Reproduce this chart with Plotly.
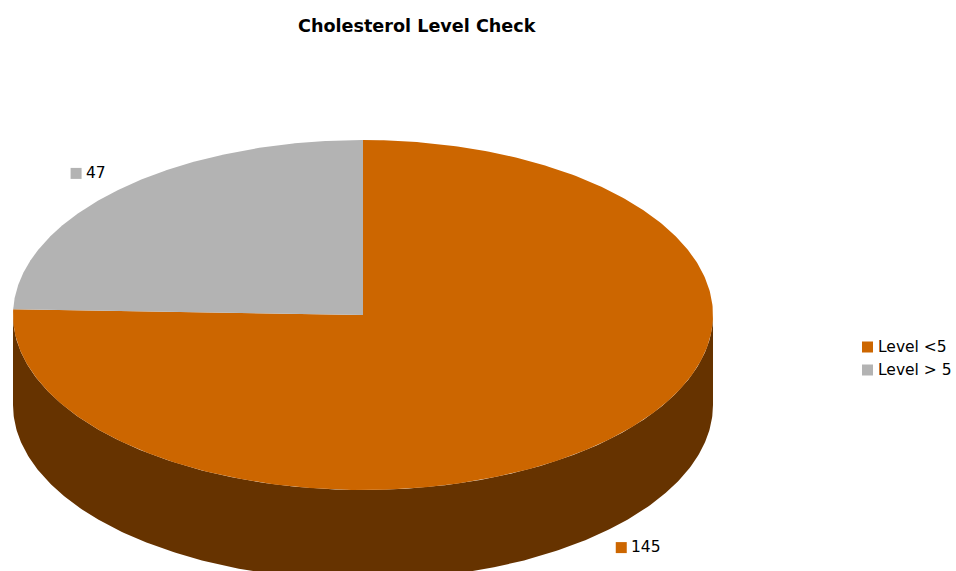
import numpy as np
import plotly.graph_objects as go

# Chart data
title_text = "Cholesterol Level Check"
categories = ["Level <5", "Level > 5"]
counts = [145, 47]
slice_colors = ["#CC6600", "#B3B3B3"]

# Geometry of the tilted pie (pixel-like data units, y grows downward)
W, H = 956, 571
cx, cy = 363, 315
rx, ry = 350, 175
depth = 90
start_deg = 90.0          # first slice starts at 12 o'clock
direction = -1            # clockwise
label_font_size = 15.5
sq = 11                   # marker square side


def darken(hex_color, f=0.5):
    h = hex_color.lstrip("#")
    r, g, b = (int(h[i:i + 2], 16) for i in (0, 2, 4))
    return "#{:02X}{:02X}{:02X}".format(int(r * f), int(g * f), int(b * f))


def ellipse_pt(t_deg, dz=0.0):
    t = np.radians(t_deg)
    return cx + rx * np.cos(t), cy - ry * np.sin(t) + dz


total = float(sum(counts))
spans = []
a = start_deg
for v in counts:
    sweep = 360.0 * v / total
    a0, a1 = a, a + direction * sweep
    spans.append((min(a0, a1), max(a0, a1)))
    a = a1

fig = go.Figure()

# Side walls: only the front half (180..360 degrees) is visible
for (lo, hi), col in zip(spans, slice_colors):
    for k in range(-1, 2):
        s_lo = max(lo, 180 + 360 * k)
        s_hi = min(hi, 360 + 360 * k)
        if s_hi <= s_lo:
            continue
        ts = np.linspace(s_lo, s_hi, 300)
        xt, yt = ellipse_pt(ts)
        xb, yb = ellipse_pt(ts[::-1], depth)
        fig.add_trace(go.Scatter(
            x=np.concatenate([xt, xb]), y=np.concatenate([yt, yb]),
            mode="lines", fill="toself", fillcolor=darken(col),
            line=dict(width=0, color=darken(col)),
            hoverinfo="skip", showlegend=False))

# Top faces of the slices
for (lo, hi), col, name, v in zip(spans, slice_colors, categories, counts):
    ts = np.linspace(lo, hi, 400)
    xs, ys = ellipse_pt(ts)
    fig.add_trace(go.Scatter(
        x=np.concatenate([[cx], xs, [cx]]), y=np.concatenate([[cy], ys, [cy]]),
        mode="lines", fill="toself", fillcolor=col,
        line=dict(width=0, color=col),
        name=name, text=[f"{name}: {v}"] * (len(xs) + 2),
        hoverinfo="text", showlegend=False))

font_family = "Verdana, DejaVu Sans, sans-serif"
annotations = []

# Value labels: a square + number group centred outside each slice at its mid-angle
lab_x, lab_y = [], []
for (lo, hi), col, v in zip(spans, slice_colors, counts):
    mid = (lo + hi) / 2.0
    t = np.radians(mid)
    ax = cx + 1.13 * rx * np.cos(t)
    ay = cy - 1.13 * ry * np.sin(t)
    if np.sin(t) < 0:
        ay += depth
    txt = str(v)
    text_w = len(txt) * 0.636 * label_font_size
    group_w = sq + 4 + text_w
    left = ax - group_w / 2.0
    lab_x.append(left + sq / 2.0)
    lab_y.append(ay + 0.5)
    annotations.append(dict(x=left + sq + 2, y=ay, xref="x", yref="y", text=txt,
                            showarrow=False, xanchor="left", yanchor="middle",
                            font=dict(family=font_family, size=label_font_size,
                                      color="#000000")))
fig.add_trace(go.Scatter(x=lab_x, y=lab_y, mode="markers",
                         marker=dict(symbol="square", size=sq, color=slice_colors,
                                     line=dict(width=0)),
                         hoverinfo="skip", showlegend=False))

# Legend block on the right
leg_x, leg_y0, leg_dy = 867.5, 347, 23
leg_ys = [leg_y0 + i * leg_dy for i in range(len(categories))]
fig.add_trace(go.Scatter(x=[leg_x] * len(categories), y=leg_ys, mode="markers",
                         marker=dict(symbol="square", size=sq, color=slice_colors,
                                     line=dict(width=0)),
                         hoverinfo="skip", showlegend=False))
for name, yy in zip(categories, leg_ys):
    annotations.append(dict(x=leg_x + 8, y=yy, xref="x", yref="y", text=name,
                            showarrow=False, xanchor="left", yanchor="middle",
                            font=dict(family=font_family, size=label_font_size,
                                      color="#000000")))

# Title
annotations.append(dict(x=417, y=25.5, xref="x", yref="y", text=f"<b>{title_text}</b>",
                        showarrow=False, xanchor="center", yanchor="middle",
                        font=dict(family=font_family, size=17.6, color="#000000")))

fig.update_layout(
    width=W, height=H,
    margin=dict(l=0, r=0, t=0, b=0),
    paper_bgcolor="#FFFFFF", plot_bgcolor="#FFFFFF",
    xaxis=dict(range=[0, W], visible=False, fixedrange=True),
    yaxis=dict(range=[H, 0], visible=False, fixedrange=True),
    annotations=annotations,
    showlegend=False,
)

fig.write_html("out.html")
